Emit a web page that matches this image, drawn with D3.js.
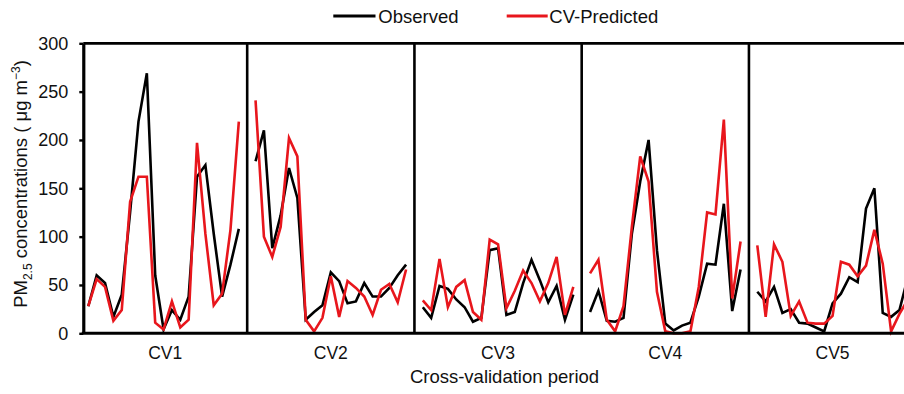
<!DOCTYPE html>
<html>
<head>
<meta charset="utf-8">
<script src="https://cdn.jsdelivr.net/npm/d3@7/dist/d3.min.js"></script>
<style>
  html, body { margin: 0; padding: 0; background: #fff; }
  svg { display: block; font-family: "Liberation Sans", Arial, sans-serif; }
</style>
</head>
<body>
<svg id="chart" width="904" height="394"></svg>
<script>
// Cross-validation periods and daily PM2.5 values (µg m-3)
const periods = ["CV1", "CV2", "CV3", "CV4", "CV5"];

const observed = [
  [28, 60, 52, 17, 40, 125, 219, 269, 60, 4, 24, 14, 38, 162, 174, 103, 38, 71, 108],
  [178, 210, 88, 122, 171, 140, 14, 22, 29, 63, 54, 31, 33, 52, 38, 38, 47, 60, 71],
  [27, 16, 49, 46, 35, 27, 12, 16, 86, 88, 19, 22, 52, 76, 55, 32, 49, 14, 40],
  [22, 44, 13, 12, 16, 103, 157, 200, 86, 10, 3, 8, 11, 38, 72, 71, 134, 23, 66],
  [43, 33, 48, 21, 25, 11, 10, 6, 2, 31, 41, 58, 53, 129, 150, 21, 17, 24, 58]
];

const predicted = [
  [28, 56, 48, 13, 24, 136, 162, 162, 11, 4, 33, 6, 14, 197, 103, 29, 41, 107, 219],
  [241, 100, 79, 110, 202, 183, 14, 2, 16, 59, 17, 54, 47, 38, 19, 45, 51, 32, 66],
  [34, 24, 77, 27, 48, 55, 22, 14, 97, 92, 26, 44, 65, 52, 33, 52, 79, 19, 48],
  [62, 76, 14, 2, 28, 110, 183, 157, 43, 2, 0, 0, 2, 48, 125, 123, 221, 36, 95],
  [91, 17, 92, 74, 18, 33, 11, 10, 10, 18, 74, 71, 59, 70, 107, 72, 2, 20, 35]
];

const yTicks = [0, 50, 100, 150, 200, 250, 300];
const seriesNames = ["Observed", "CV-Predicted"];
const seriesColors = ["#000000", "#e8161c"];

const slotsPerPeriod = 20;   // 19 days plus one separator slot

const svg = d3.select("#chart");

// Continuous day index across all periods
const x = d3.scaleLinear()
  .domain([0, 98])
  .range([88.3, 88.3 + 98 * 8.3625]);

const y = d3.scaleLinear()
  .domain([0, 300])
  .range([333.3, 43.3]);

const plotLeft = x(-0.6);
const plotRight = x(99);
const plotTop = y(300);
const plotBottom = y(0);

// Period separators
const sepIdx = periods.slice(0, -1).map((_, k) => (k + 1) * slotsPerPeriod - 1);
svg.append("g")
  .selectAll("line")
  .data(sepIdx)
  .join("line")
  .attr("x1", d => x(d)).attr("x2", d => x(d))
  .attr("y1", plotTop).attr("y2", plotBottom)
  .attr("stroke", "#000").attr("stroke-width", 2.6);

// Series lines, one path per period
const line = d3.line()
  .x(d => x(d.i))
  .y(d => y(d.v));

[observed, predicted].forEach((series, s) => {
  svg.append("g")
    .selectAll("path")
    .data(series.map((vals, k) => vals.map((v, j) => ({ i: k * slotsPerPeriod + j, v }))))
    .join("path")
    .attr("d", line)
    .attr("fill", "none")
    .attr("stroke", seriesColors[s])
    .attr("stroke-width", 2.6);
});

// Frame: top and bottom edges
svg.append("line")
  .attr("x1", plotLeft).attr("x2", plotRight)
  .attr("y1", plotTop).attr("y2", plotTop)
  .attr("stroke", "#000").attr("stroke-width", 2.8);
svg.append("line")
  .attr("x1", plotLeft - 1.5).attr("x2", plotRight)
  .attr("y1", plotBottom).attr("y2", plotBottom)
  .attr("stroke", "#000").attr("stroke-width", 3);

// Y axis
const yAxis = svg.append("g")
  .attr("transform", `translate(${plotLeft},0)`)
  .call(d3.axisLeft(y).tickValues(yTicks).tickSizeInner(4).tickSizeOuter(0).tickPadding(11));
yAxis.select(".domain").attr("stroke", "#000").attr("stroke-width", 3.2);
yAxis.selectAll(".tick line").attr("stroke", "#000").attr("stroke-width", 2.4);
yAxis.selectAll(".tick text")
  .attr("font-size", 18).attr("fill", "#111")
  .attr("font-family", "'Liberation Sans', Arial, sans-serif");

// Period labels
const bounds = [-0.6, ...sepIdx, 99];
svg.append("g")
  .selectAll("text")
  .data(periods)
  .join("text")
  .attr("x", (d, k) => (x(bounds[k]) + x(bounds[k + 1])) / 2)
  .attr("y", 359)
  .attr("text-anchor", "middle")
  .attr("font-size", 17.5)
  .attr("fill", "#111")
  .text(d => d);

// X axis title
svg.append("text")
  .attr("x", 504.5)
  .attr("y", 383)
  .attr("text-anchor", "middle")
  .attr("font-size", 18.5)
  .attr("fill", "#111")
  .text("Cross-validation period");

// Y axis title
const yTitle = svg.append("text")
  .attr("transform", "translate(27,184) rotate(-90)")
  .attr("text-anchor", "middle")
  .attr("font-size", 18.5)
  .attr("fill", "#111");
yTitle.append("tspan").text("PM");
yTitle.append("tspan").attr("font-size", 12).attr("dy", 5).text("2.5");
yTitle.append("tspan").attr("dy", -5).text(" concentrations ( μg m");
yTitle.append("tspan").attr("font-size", 12).attr("dy", -7).text("−3");
yTitle.append("tspan").attr("dy", 7).text(")");

// Legend
const legendItems = [
  { name: seriesNames[0], color: seriesColors[0], x1: 333.3, x2: 375.5, tx: 378.3 },
  { name: seriesNames[1], color: seriesColors[1], x1: 506.7, x2: 547.7, tx: 549.3 }
];
const lg = svg.append("g").selectAll("g").data(legendItems).join("g");
lg.append("line")
  .attr("x1", d => d.x1).attr("x2", d => d.x2)
  .attr("y1", 16).attr("y2", 16)
  .attr("stroke", d => d.color).attr("stroke-width", 3);
lg.append("text")
  .attr("x", d => d.tx).attr("y", 22.7)
  .attr("font-size", 18.5)
  .attr("fill", "#111")
  .text(d => d.name);
</script>
</body>
</html>
